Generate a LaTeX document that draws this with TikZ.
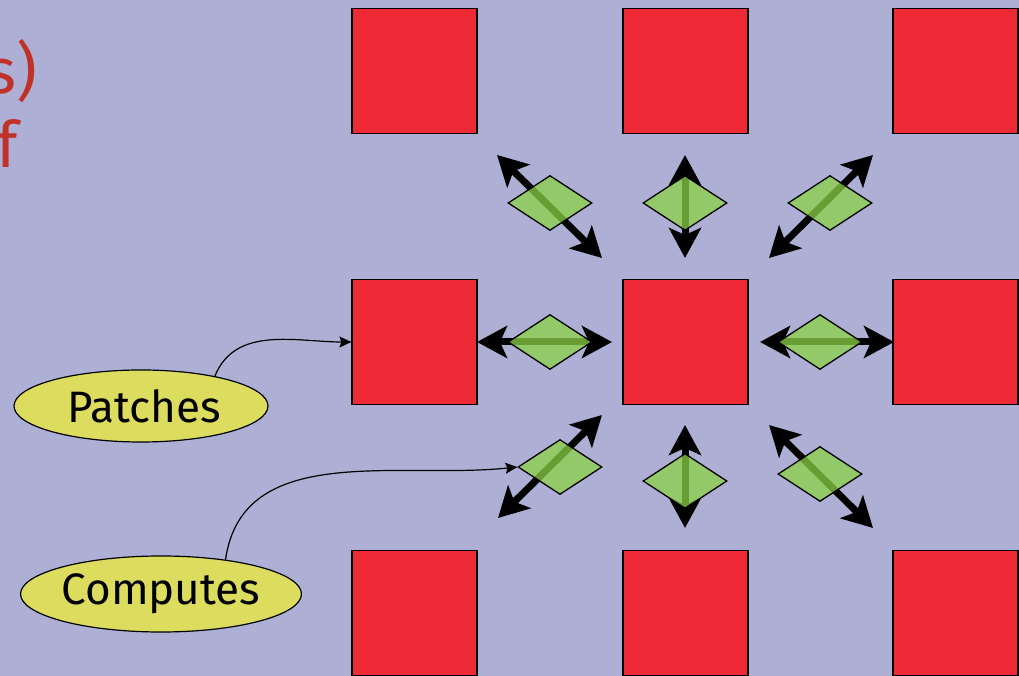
\documentclass[tikz,border=0pt]{standalone}
\usepackage{fontspec}
\setmainfont{Fira Sans}
\usetikzlibrary{shapes.geometric,arrows.meta}
\definecolor{bg}{RGB}{173,176,212}
\definecolor{sqred}{RGB}{237,42,53}
\definecolor{dmgreen}{RGB}{140,210,70}
\definecolor{ellyel}{RGB}{220,220,94}
\definecolor{txtred}{RGB}{192,50,40}
\begin{document}
\begin{tikzpicture}[x=1pt,y=1pt,
 sq/.style={rectangle,draw=black,line width=1.2pt,fill=sqred,minimum size=125pt,inner sep=0pt},
 dm/.style={diamond,draw=black,line width=1.3pt,fill=dmgreen,fill opacity=0.75,draw opacity=1,minimum width=84pt,minimum height=55pt,inner sep=0pt,aspect=1.5},
 dbl/.style={line width=7pt,{Stealth[length=30pt,width=32pt,inset=7pt]}-{Stealth[length=30pt,width=32pt,inset=7pt]}},
 lab/.style={ellipse,draw=black,line width=1.2pt,fill=ellyel,inner sep=0pt,font=\fontsize{44}{52}\selectfont},
 callout/.style={line width=1.2pt,-{Stealth[length=12pt,width=11pt,inset=2pt]}},
 redtxt/.style={text=txtred,inner sep=0pt,font=\fontsize{64}{74}\selectfont}]
\useasboundingbox (0,0) rectangle (1019,676);
\clip (0,0) rectangle (1019,676);
\fill[bg] (0,0) rectangle (1019,676);

% cropped slide text
\node[redtxt,anchor=base east] (t1) at (37,582) {s)};
\node[redtxt,anchor=base west] (t2) at (-4,508) {f};

% squares
\node[sq] (s11) at (414.5,605) {};
\node[sq] (s12) at (685.5,605) {};
\node[sq] (s13) at (955.5,605) {};
\node[sq] (s21) at (414.5,334) {};
\node[sq] (s22) at (685.5,334) {};
\node[sq] (s23) at (955.5,334) {};
\node[sq] (s31) at (414.5,63) {};
\node[sq] (s32) at (685.5,63) {};
\node[sq] (s33) at (955.5,63) {};

% arrow end points
\coordinate (a1s) at (497,521); \coordinate (a1e) at (602,418);
\coordinate (a2s) at (685,521); \coordinate (a2e) at (685,418);
\coordinate (a3s) at (873,521); \coordinate (a3e) at (769,418);
\coordinate (a4s) at (477,334); \coordinate (a4e) at (612,334);
\coordinate (a5s) at (760,334); \coordinate (a5e) at (894,334);
\coordinate (a6s) at (498,158); \coordinate (a6e) at (602,261);
\coordinate (a7s) at (685,251); \coordinate (a7e) at (685,148);
\coordinate (a8s) at (769,251); \coordinate (a8e) at (873,148);

\draw[dbl] (a1s) -- (a1e);
\draw[dbl] (a2s) -- (a2e);
\draw[dbl] (a3s) -- (a3e);
\draw[dbl] (a4s) -- (a4e);
\draw[dbl] (a5s) -- (a5e);
\draw[dbl] (a6s) -- (a6e);
\draw[dbl] (a7s) -- (a7e);
\draw[dbl] (a8s) -- (a8e);

% diamonds
\node[dm] (d1) at (550,473) {};
\node[dm] (d2) at (685,473) {};
\node[dm] (d3) at (830,473) {};
\node[dm] (d4) at (550,334) {};
\node[dm] (d5) at (820,334) {};
\node[dm] (d6) at (560,209) {};
\node[dm] (d7) at (685,195) {};
\node[dm] (d8) at (820,202) {};

% labels
\node[lab,minimum width=254pt,minimum height=72pt] (pa) at (141,270) {\hspace*{6pt}Patches};
\node[lab,minimum width=274pt,minimum height=76pt] (co) at (161,82) {Computes};

\draw[callout] (pa.22) to[out=68,in=180] (s21.west);
\draw[callout] (co.28) to[out=82,in=186] (d6.west);
\end{tikzpicture}
\end{document}
